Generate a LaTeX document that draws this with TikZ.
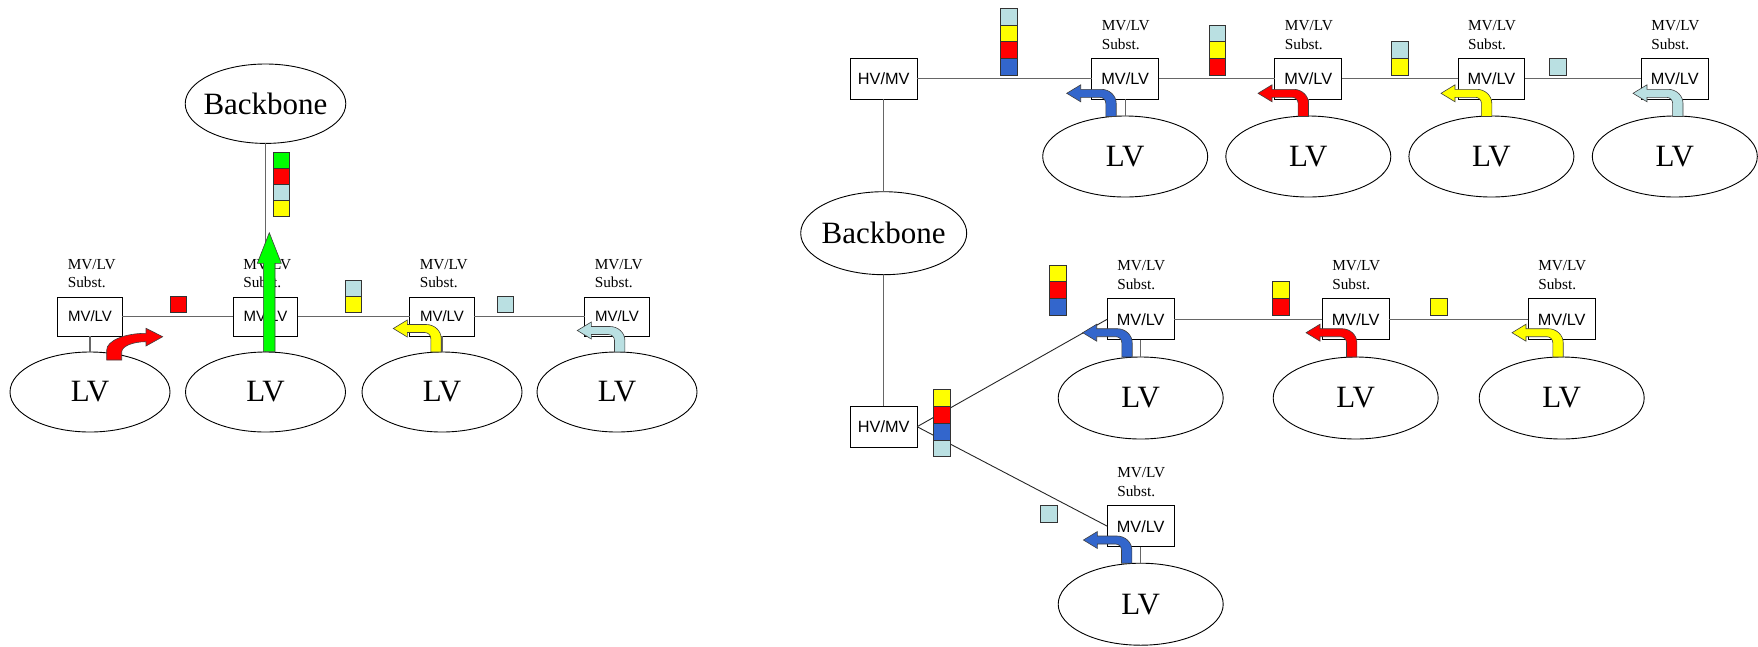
\documentclass[tikz,border=0pt]{standalone}
\usepackage{fontspec}
\setmainfont{Liberation Serif}
\newfontfamily\arialf{Liberation Sans}
\usetikzlibrary{calc,shapes.geometric}
\definecolor{cgreen}{RGB}{0,255,0}
\definecolor{cred}{RGB}{255,0,0}
\definecolor{cyellow}{RGB}{255,255,0}
\definecolor{clb}{RGB}{186,224,226}
\definecolor{cblue}{RGB}{51,102,204}
\tikzset{
  box/.style={draw=black, line width=1pt, fill=white, minimum width=64.5pt, minimum height=39pt, inner sep=0pt, outer sep=0pt, font=\arialf\fontsize{15}{15}\selectfont},
  boxR/.style={box, minimum width=66.8pt, minimum height=41pt, font=\arialf\fontsize{16.3}{16.3}\selectfont},
  lv/.style={ellipse, draw=black, line width=0.9pt, fill=white, minimum width=160pt, minimum height=80pt, inner sep=0pt, outer sep=0pt, font=\fontsize{31}{31}\selectfont},
  lvR/.style={lv, minimum width=165pt, minimum height=81pt},
  lbl/.style={inner sep=0pt, outer sep=0pt, font=\fontsize{15.3}{15.3}\selectfont},
  conn/.style={draw=black!60, line width=1.2pt},
  diag/.style={draw=black!85, line width=0.9pt},
  sqs/.style={draw=black!80, line width=0.7pt},
  arr/.style={draw=black!75, line width=0.6pt, line join=miter}
}
\newcommand{\subst}[1]{%
  \node[lbl, anchor=base west] (#1-la) at ($(#1.north west)+(10,-28)$) {MV/LV};
  \node[lbl, anchor=base west] (#1-lb) at ($(#1.north west)+(10,-9.2)$) {Subst.};}
\newcommand{\sq}[4]{\filldraw[sqs, fill=#1] (#2,#3) rectangle ++(#4,#4);}
\newcommand{\bentarrow}[5]{%
  \filldraw[arr, fill=#1] ({#2+5.2},{#3}) -- ({#2+5.2},{#4+10})
   .. controls ({#2+5.2},{#4+2.3}) and ({#2-1.55},{#4-4}) .. ({#2-9.8},{#4-4})
   -- ({#5+14},{#4-4}) -- ({#5+14},{#4-8.5}) -- ({#5},{#4}) -- ({#5+14},{#4+8.5}) -- ({#5+14},{#4+4})
   -- ({#2-11.2},{#4+4}) .. controls ({#2-7.9},{#4+4}) and ({#2-5.2},{#4+6.7}) .. ({#2-5.2},{#4+10})
   -- ({#2-5.2},{#3}) -- cycle;}
\begin{document}
\begin{tikzpicture}[x=1pt,y=-1pt]
\useasboundingbox (0,0) rectangle (1758,646);
% ---------- left part ----------
\node[lv, minimum width=160.6pt, minimum height=79.4pt] (bbL) at (265.5,103.7) {\makebox[0pt]{Backbone}};
\node[box] (b1) at (90,316.5) {MV/LV};
\node[box] (b2) at (265.5,316.5) {MV/LV};
\node[box] (b3) at (442,316.5) {MV/LV};
\node[box] (b4) at (617,316.5) {MV/LV};
\node[lv] (l1) at (90,392) {LV};
\node[lv] (l2) at (265.5,392) {LV};
\node[lv] (l3) at (442,392) {LV};
\node[lv] (l4) at (617,392) {LV};
\draw[conn] (bbL) -- (b2);
\draw[conn] (b1) -- (b2) -- (b3) -- (b4);
\draw[conn] (b1) -- (l1);
\draw[conn] (b2) -- (l2);
\draw[conn] (b3) -- (l3);
\draw[conn] (b4) -- (l4);
\subst{b1}\subst{b2}\subst{b3}\subst{b4}
\sq{cred}{170}{296.5}{16}
\sq{cgreen}{273.3}{152.3}{16}
\sq{cred}{273.3}{168.3}{16}
\sq{clb}{273.3}{184.3}{16}
\sq{cyellow}{273.3}{200.3}{16}
\sq{clb}{345.7}{280.7}{16}
\sq{cyellow}{345.7}{296.7}{16}
\sq{clb}{497.5}{296.5}{16}
% arrows left
\filldraw[arr, fill=cred] (106.7,360) -- (106.7,350) .. controls (106.7,340.8) and (124.4,333.3) .. (146,333.3)
  -- (146,328.3) -- (162.7,336.7) -- (146,346) -- (146,341.7)
  .. controls (132.6,341.7) and (121.7,346.3) .. (121.7,352) -- (121.7,360) -- cycle;
\filldraw[arr, fill=cgreen] (263.3,351.7) -- (263.3,263.3) -- (257.3,263.3) -- (269.3,232.7) -- (281.3,263.3) -- (275,263.3) -- (275,351.7) -- cycle;
\bentarrow{cyellow}{436}{352}{328.5}{393.3}
\bentarrow{clb}{619.7}{352}{330.5}{577.3}
% ---------- right part ----------
\node[boxR] (hvT) at (883.7,78.8) {HV/MV};
\node[boxR] (t1) at (1125.2,78.8) {MV/LV};
\node[boxR] (t2) at (1308.3,78.8) {MV/LV};
\node[boxR] (t3) at (1491.4,78.8) {MV/LV};
\node[boxR] (t4) at (1674.8,78.8) {MV/LV};
\node[lvR] (tl1) at (1125.2,156.5) {LV};
\node[lvR] (tl2) at (1308.3,156.5) {LV};
\node[lvR] (tl3) at (1491.4,156.5) {LV};
\node[lvR] (tl4) at (1674.8,156.5) {LV};
\node[lvR, minimum width=166pt, minimum height=83pt] (bbR) at (883.7,233.2) {\makebox[0pt]{Backbone}};
\node[boxR] (hvB) at (883.7,426.7) {HV/MV};
\node[boxR] (mA) at (1140.7,319.2) {MV/LV};
\node[boxR] (mB) at (1355.7,319.2) {MV/LV};
\node[boxR] (mC) at (1561.7,319.2) {MV/LV};
\node[lvR, minimum height=82pt] (ml1) at (1140.7,398) {LV};
\node[lvR, minimum height=82pt] (ml2) at (1355.7,398) {LV};
\node[lvR, minimum height=82pt] (ml3) at (1561.7,398) {LV};
\node[boxR] (bt) at (1140.7,526.2) {MV/LV};
\node[lvR, minimum height=82pt] (bl) at (1140.7,604.2) {LV};
\draw[conn] (hvT) -- (t1) -- (t2) -- (t3) -- (t4);
\draw[conn] (hvT) -- (bbR);
\draw[conn] (bbR) -- (hvB);
\draw[conn] (mA) -- (mB) -- (mC);
\draw[diag] (hvB.east) -- (mA.west);
\draw[diag] (hvB.east) -- (bt.west);
\draw[conn] (t1) -- (tl1);
\draw[conn] (t2) -- (tl2);
\draw[conn] (t3) -- (tl3);
\draw[conn] (t4) -- (tl4);
\draw[conn] (mA) -- (ml1);
\draw[conn] (mB) -- (ml2);
\draw[conn] (mC) -- (ml3);
\draw[conn] (bt) -- (bl);
\subst{t1}\subst{t2}\subst{t3}\subst{t4}
\subst{mA}\subst{mB}\subst{mC}\subst{bt}
% squares right
\sq{clb}{1000.5}{8.3}{16.7}
\sq{cyellow}{1000.5}{25}{16.7}
\sq{cred}{1000.5}{41.7}{16.7}
\sq{cblue}{1000.5}{58.4}{16.7}
\sq{clb}{1209}{25}{16.7}
\sq{cyellow}{1209}{41.7}{16.7}
\sq{cred}{1209}{58.4}{16.7}
\sq{clb}{1391.3}{41.7}{16.7}
\sq{cyellow}{1391.3}{58.4}{16.7}
\sq{clb}{1549.4}{58.4}{16.7}
\sq{cyellow}{933.3}{389.8}{16.7}
\sq{cred}{933.3}{406.5}{16.7}
\sq{cblue}{933.3}{423.2}{16.7}
\sq{clb}{933.3}{439.9}{16.7}
\sq{cyellow}{1049.3}{264.9}{16.7}
\sq{cred}{1049.3}{281.6}{16.7}
\sq{cblue}{1049.3}{298.3}{16.7}
\sq{cyellow}{1272.6}{281.6}{16.7}
\sq{cred}{1272.6}{298.3}{16.7}
\sq{cyellow}{1430.3}{298.3}{16.7}
\sq{clb}{1040.4}{505.7}{16.7}
% arrows right
\bentarrow{cblue}{1111}{116.5}{93.3}{1066.7}
\bentarrow{cred}{1303.3}{116.5}{93.3}{1258}
\bentarrow{cyellow}{1486.6}{116.5}{93.3}{1441}
\bentarrow{clb}{1677.8}{116.5}{93.3}{1633}
\bentarrow{cblue}{1127}{357}{332.7}{1082.7}
\bentarrow{cred}{1351.7}{357}{332.7}{1306}
\bentarrow{cyellow}{1558}{357}{332.7}{1512}
\bentarrow{cblue}{1126.7}{563.2}{540}{1083.4}
\end{tikzpicture}
\end{document}
